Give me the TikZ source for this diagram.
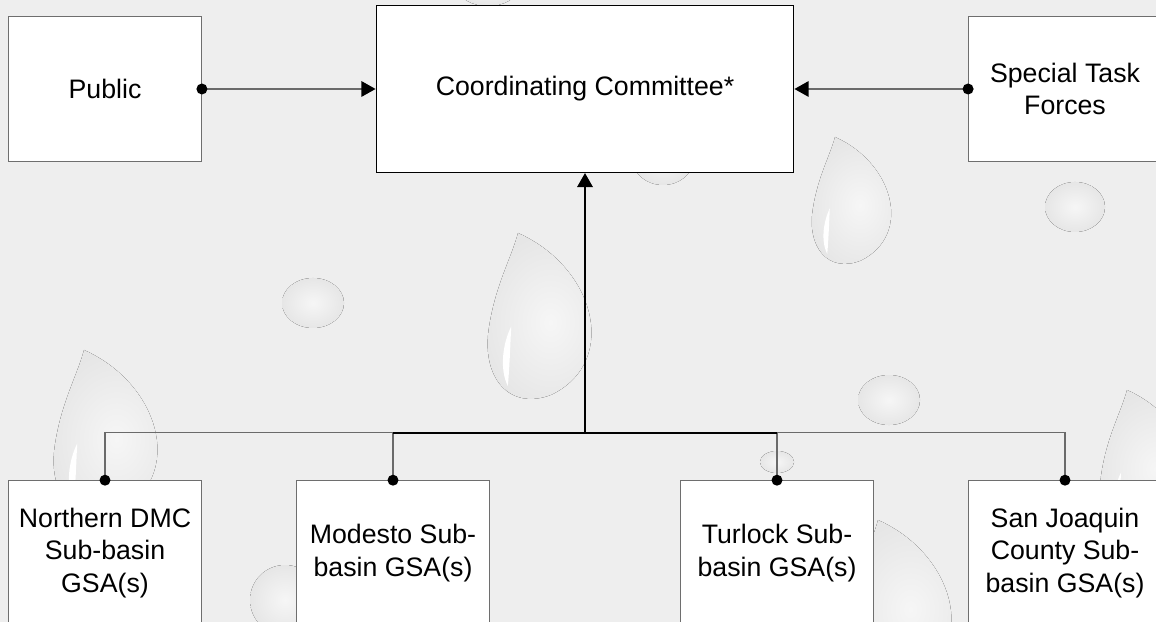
\documentclass[tikz,border=0pt]{standalone}
\usepackage{fontspec}
\setmainfont{Liberation Sans}
\usetikzlibrary{arrows.meta}
\usepackage{xcolor}
\definecolor{paper}{HTML}{EEEEEE}
\definecolor{edgegray}{HTML}{6E6E6E}
\definecolor{linkgray}{HTML}{6A6A6A}
\definecolor{dropout}{HTML}{E6E6E6}
\definecolor{dropin}{HTML}{F6F6F6}

\tikzset{
  unit/.style={draw=edgegray,line width=0.9pt,fill=white,align=center,inner sep=0pt,
    minimum width=4.8125cm,minimum height=3.6075cm},
  chair/.style={unit,draw=black,line width=1pt,minimum width=10.435cm,minimum height=4.165cm},
  link/.style={linkgray,line width=0.9pt},
  trunk/.style={black,line width=1.4pt},
  drop/.style={shading=radial,inner color=dropin,outer color=dropout},
  shine/.style={fill=white},
  pics/waterdrop/.style={code={
    \fill[drop] (0,0) .. controls (0.45,0.2) and (0.6,0.75) .. (0.2,0.95)
      .. controls (-0.05,1.05) and (-0.22,0.85) .. (-0.17,0.55)
      .. controls (-0.13,0.3) and (-0.04,0.15) .. cycle;
    \fill[shine] (-0.04,0.55) .. controls (-0.09,0.65) and (-0.11,0.8) .. (-0.06,0.9)
      .. controls (-0.05,0.8) and (-0.045,0.65) .. cycle;
  }},
}

\begin{document}
\begin{tikzpicture}[x=0.025cm,y=-0.025cm,>={Triangle[length=10pt,width=11pt]},
  font=\fontsize{19}{23.1}\selectfont]
\useasboundingbox (0,0) rectangle (1156,622);
\clip (0,0) rectangle (1156,622);
\fill[paper] (0,0) rectangle (1156,622);

% background drops
\pic[scale=170] at (84,350) {waterdrop};
\pic[scale=170] at (518,233) {waterdrop};
\pic[scale=130] at (835,137) {waterdrop};
\pic[scale=150] at (1127,390) {waterdrop};
\pic[scale=170] at (878,520) {waterdrop};
\fill[drop] (313,303) ellipse [x radius=31,y radius=25];
\fill[drop] (1075,207) ellipse [x radius=30,y radius=25];
\fill[drop] (889,400) ellipse [x radius=31,y radius=25];
\fill[drop] (663,160) ellipse [x radius=30,y radius=25];
\fill[drop] (488,-12) ellipse [x radius=30,y radius=18];
\fill[drop] (777,462) ellipse [x radius=17,y radius=11];
\fill[drop] (285,600) ellipse [x radius=35,y radius=35];

% boxes
\node[unit] (public) at (105,89) {Public};
\node[chair] (committee) at (585,89) {Coordinating Committee*};
\node[unit] (taskforces) at (1065,89) {Special Task\\Forces};
\node[unit] (northern) at (105,553) {Northern DMC\\Sub-basin\\GSA(s)};
\node[unit] (modesto) at (393,553) {Modesto Sub-\\basin GSA(s)};
\node[unit] (turlock) at (777,553) {Turlock Sub-\\basin GSA(s)};
\node[unit] (sanjoaquin) at (1065,553) {San Joaquin\\County Sub-\\basin GSA(s)};
\coordinate (bus) at (585,432.7);

% connectors
\draw[link,-{Triangle[length=10pt,width=11pt,color=black]}] (public) -- (committee);
\draw[link,-{Triangle[length=10pt,width=11pt,color=black]}] (taskforces) -- (committee);
\draw[link] (northern.north) |- (bus);
\draw[link] (modesto.north) |- (bus);
\draw[link] (turlock.north) |- (bus);
\draw[link] (sanjoaquin.north) |- (bus);
\draw[trunk] (modesto.north |- bus) -- (turlock.north |- bus);
\draw[trunk,->] (bus) -- (committee.south);
\foreach \n in {public.east,taskforces.west,northern.north,modesto.north,turlock.north,sanjoaquin.north}
  \fill (\n) circle (5.5);
\end{tikzpicture}
\end{document}
